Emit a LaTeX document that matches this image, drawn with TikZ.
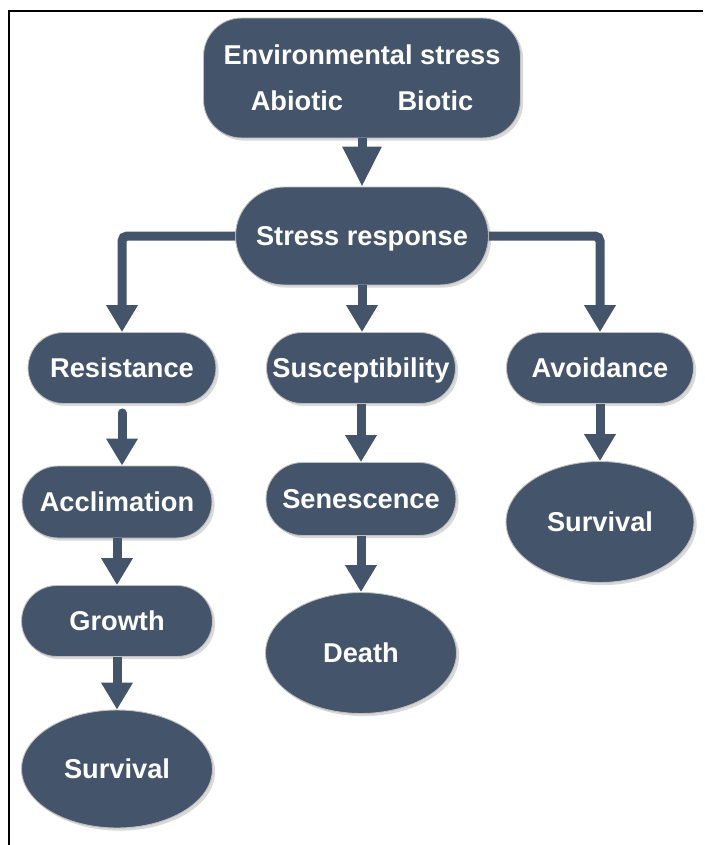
\documentclass[tikz,border=0pt]{standalone}
\usepackage{fontspec}
\setmainfont{Liberation Sans}
\usetikzlibrary{arrows.meta,shapes.geometric,shadows}
\definecolor{slate}{HTML}{44546A}

\begin{document}
\begin{tikzpicture}[x=0.02cm,y=-0.02cm,
    box/.style={fill=slate,draw=black!25,line width=0.5pt,text=white,inner sep=0pt,
      font=\fontsize{15.5}{18}\selectfont\bfseries,
      drop shadow={shadow xshift=1.5pt,shadow yshift=-1.5pt,opacity=0.25,fill=black!60}},
    pill/.style={box,rectangle,minimum height=1.42cm,rounded corners=0.71cm,text height=11pt,text depth=0pt},
    oval/.style={box,ellipse,text height=11pt,text depth=0pt},
    arr/.style={slate,line width=0.18cm,-{Triangle[width=0.6cm,length=0.54cm]}}]
  \useasboundingbox (0,0) rectangle (704,845);
  \draw[line width=1.6pt] (9,845) -- (9,11) -- (703,11);
  \node[box,rounded corners=0.76cm,minimum width=6.34cm,minimum height=2.4cm,align=center] (env) at (362,78)
    {Environmental stress\\[8pt]Abiotic\hspace{2em}Biotic};
  \node[pill,minimum width=5.06cm,minimum height=1.96cm,rounded corners=0.98cm] (resp) at (362,236) {Stress response};
  \node[pill,minimum width=3.76cm] (res) at (122,368) {Resistance};
  \node[pill,minimum width=3.78cm] (susc) at (361,368) {Susceptibility};
  \node[pill,minimum width=3.74cm] (avoid) at (600,368) {Avoidance};
  \node[pill,minimum width=3.8cm,minimum height=1.44cm,rounded corners=0.72cm] (accl) at (117,502) {Acclimation};
  \node[pill,minimum width=3.82cm] (grow) at (117,621) {Growth};
  \node[oval,minimum width=3.82cm,minimum height=2.36cm] (survA) at (117,769) {Survival};
  \node[pill,minimum width=3.8cm,minimum height=1.46cm,rounded corners=0.73cm] (sen) at (361,499) {Senescence};
  \node[oval,minimum width=3.82cm,minimum height=2.42cm] (death) at (361,653) {Death};
  \node[oval,minimum width=3.76cm,minimum height=2.42cm] (survB) at (600,522) {Survival};
  \draw[arr,-{Triangle[width=0.74cm,length=0.8cm]}] (env.south) -- (resp.north);
  \draw[arr,rounded corners=0.1cm] (resp.west) -| (res.north);
  \draw[arr,rounded corners=0.1cm] (resp.east) -| (avoid.north);
  \draw[arr] (resp.south) -- (resp.south |- susc.north);
  \draw[arr,line cap=round,shorten <=0.18cm] (res.south) -- (res.south |- accl.north);
  \draw[arr] (accl.south) -- (grow.north);
  \draw[arr] (grow.south) -- (survA.north);
  \draw[arr] (susc.south) -- (sen.north);
  \draw[arr] (sen.south) -- (death.north);
  \draw[arr] (avoid.south) -- (survB.north);
\end{tikzpicture}
\end{document}
